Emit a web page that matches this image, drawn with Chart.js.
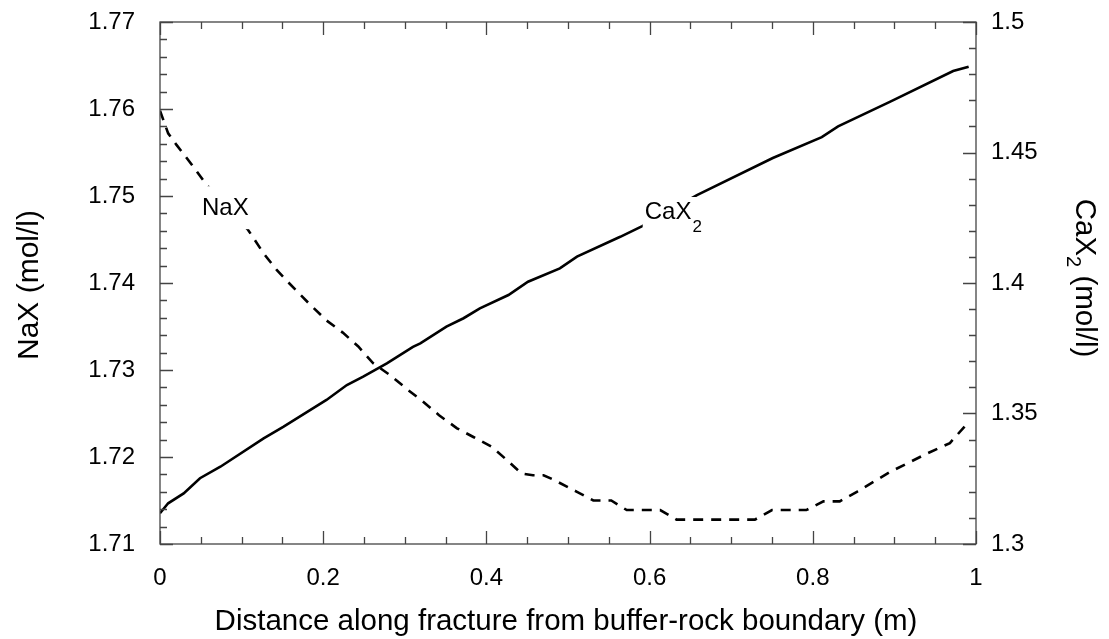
<!DOCTYPE html>
<html>
<head>
<meta charset="utf-8">
<title>NaX and CaX2 along the fracture</title>
<script src="https://cdn.jsdelivr.net/npm/chart.js@4.4.1/dist/chart.umd.min.js"></script>
<style>
  html, body { margin: 0; padding: 0; background: #ffffff; }
  #wrap { width: 1109px; height: 639px; }
</style>
</head>
<body>
<div id="wrap"><canvas id="chart" width="1109" height="639"></canvas></div>
<script>
// Distance along the fracture (m) and the exchanger concentrations (mol/l)
const naxDistance = [0, 0.010, 0.020, 0.039, 0.057, 0.108, 0.127, 0.143, 0.157, 0.182, 0.204, 0.224,
  0.243, 0.261, 0.282, 0.304, 0.322, 0.342, 0.364, 0.384, 0.406, 0.427, 0.443, 0.457, 0.470, 0.482,
  0.511, 0.531, 0.553, 0.572, 0.613, 0.633, 0.729, 0.750, 0.792, 0.813, 0.833, 0.854, 0.895, 0.940,
  0.968, 0.986];
const naxValues = [1.7598, 1.7572, 1.7559, 1.7536, 1.7513, 1.7461, 1.7434, 1.7415, 1.7401, 1.7377,
  1.7357, 1.7343, 1.7327, 1.7308, 1.7294, 1.7277, 1.7264, 1.7248, 1.7233, 1.7223, 1.7212, 1.7195,
  1.7181, 1.7179, 1.7179, 1.7174, 1.7160, 1.7150, 1.7150, 1.7139, 1.7139, 1.7128, 1.7128, 1.7139,
  1.7139, 1.7149, 1.7149, 1.7160, 1.7183, 1.7204, 1.7216, 1.7235];

const caxDistance = [0, 0.010, 0.029, 0.049, 0.074, 0.127, 0.151, 0.204, 0.229, 0.249, 0.278, 0.310,
  0.319, 0.351, 0.372, 0.392, 0.427, 0.451, 0.490, 0.511, 0.564, 0.591, 0.658, 0.751, 0.811, 0.831,
  0.895, 0.972, 0.991];
const cax2Values = [1.3118, 1.3156, 1.3194, 1.3252, 1.3296, 1.3405, 1.3449, 1.3552, 1.3609, 1.3641,
  1.3692, 1.3755, 1.3769, 1.3833, 1.3865, 1.3903, 1.3954, 1.4005, 1.4056, 1.4101, 1.4177, 1.4218,
  1.4337, 1.4479, 1.4559, 1.4600, 1.4695, 1.4812, 1.4829];

// Axis tick labels and minor steps
const xTicks = [0, 0.2, 0.4, 0.6, 0.8, 1];
const naxTicks = [1.71, 1.72, 1.73, 1.74, 1.75, 1.76, 1.77];
const caxTicks = [1.3, 1.35, 1.4, 1.45, 1.5];
const xMinorStep = 0.05, naxMinorStep = 0.002, caxMinorStep = 0.01;

const FONT = '"Liberation Sans", Arial, Helvetica, sans-serif';
const AXIS_COLOR = '#444444';

function text(ctx, str, x, y, size, align, baseline, rot) {
  ctx.save();
  ctx.translate(x, y);
  if (rot) ctx.rotate(rot);
  ctx.font = size + 'px ' + FONT;
  ctx.textAlign = align;
  ctx.textBaseline = baseline;
  ctx.fillStyle = '#000000';
  ctx.fillText(str, 0, 0);
  ctx.restore();
}

function stepValues(min, max, step) {
  const out = [];
  const n = Math.round((max - min) / step);
  for (let i = 0; i <= n; i++) out.push(+(min + i * step).toFixed(6));
  return out;
}

const frameAndLabels = {
  id: 'frameAndLabels',
  afterDatasetsDraw(chart) {
    const { ctx, chartArea: a, scales } = chart;
    const xs = scales.x, yl = scales.y, yr = scales.y2;
    const MAJ = 13, MIN = 7;

    // anchors of the two curve labels
    const naxLX = xs.getPixelForValue(0.0515), naxLY = yl.getPixelForValue(1.7486);
    const caxLX = xs.getPixelForValue(0.594), caxLY = yr.getPixelForValue(1.4272);

    // curves pass behind their labels
    ctx.save();
    ctx.fillStyle = '#ffffff';
    ctx.fillRect(naxLX - 2, naxLY - 22, 50, 43);
    ctx.fillRect(caxLX - 2, caxLY - 15, 62, 45);
    ctx.restore();

    ctx.save();
    ctx.strokeStyle = AXIS_COLOR;
    ctx.lineWidth = 1.3;
    ctx.strokeRect(a.left, a.top, a.right - a.left, a.bottom - a.top);

    ctx.beginPath();
    // x ticks, bottom and top, pointing inward
    stepValues(0, 1, xMinorStep).forEach(v => {
      const px = Math.round(xs.getPixelForValue(v)) + 0.5;
      const len = xTicks.some(t => Math.abs(t - v) < 1e-9) ? MAJ : MIN;
      ctx.moveTo(px, a.bottom); ctx.lineTo(px, a.bottom - len);
      ctx.moveTo(px, a.top); ctx.lineTo(px, a.top + len);
    });
    // left axis ticks
    stepValues(1.71, 1.77, naxMinorStep).forEach(v => {
      const py = Math.round(yl.getPixelForValue(v)) + 0.5;
      const len = naxTicks.some(t => Math.abs(t - v) < 1e-9) ? MAJ : MIN;
      ctx.moveTo(a.left, py); ctx.lineTo(a.left + len, py);
    });
    // right axis ticks
    stepValues(1.3, 1.5, caxMinorStep).forEach(v => {
      const py = Math.round(yr.getPixelForValue(v)) + 0.5;
      const len = caxTicks.some(t => Math.abs(t - v) < 1e-9) ? MAJ : MIN;
      ctx.moveTo(a.right, py); ctx.lineTo(a.right - len, py);
    });
    ctx.stroke();
    ctx.restore();

    // tick labels
    xTicks.forEach(v => text(ctx, String(v), xs.getPixelForValue(v), a.bottom + 34, 24, 'center', 'middle'));
    naxTicks.forEach(v => text(ctx, v.toFixed(2), a.left - 25, yl.getPixelForValue(v), 24, 'right', 'middle'));
    caxTicks.forEach(v => text(ctx, String(v), a.right + 15, yr.getPixelForValue(v), 24, 'left', 'middle'));

    // axis titles
    text(ctx, 'Distance along fracture from buffer-rock boundary (m)', (a.left + a.right) / 2 - 2, a.bottom + 78, 29.5, 'center', 'middle');
    text(ctx, 'NaX (mol/l)', 30, (a.top + a.bottom) / 2 + 2, 30, 'center', 'middle', -Math.PI / 2);

    // right title with subscript, reading top to bottom
    ctx.save();
    ctx.translate(1084, (a.top + a.bottom) / 2 - 5);
    ctx.rotate(Math.PI / 2);
    ctx.fillStyle = '#000000';
    ctx.textBaseline = 'middle';
    ctx.textAlign = 'left';
    const big = '29.5px ' + FONT, small = '20px ' + FONT;
    ctx.font = big; const w1 = ctx.measureText('CaX').width;
    ctx.font = small; const w2 = ctx.measureText('2').width;
    ctx.font = big; const w3 = ctx.measureText(' (mol/l)').width;
    const x0 = -(w1 + w2 + w3) / 2;
    ctx.font = big; ctx.fillText('CaX', x0, 0);
    ctx.font = small; ctx.fillText('2', x0 + w1, 11);
    ctx.font = big; ctx.fillText(' (mol/l)', x0 + w1 + w2, 0);
    ctx.restore();

    // curve labels
    text(ctx, 'NaX', naxLX, naxLY, 24, 'left', 'middle');
    text(ctx, 'CaX', caxLX, caxLY, 24, 'left', 'middle');
    ctx.font = '24px ' + FONT;
    const capW = ctx.measureText('CaX').width;
    text(ctx, '2', caxLX + capW + 1, caxLY + 15, 17, 'left', 'middle');
  }
};

const ctx = document.getElementById('chart').getContext('2d');
new Chart(ctx, {
  type: 'line',
  data: {
    datasets: [
      {
        label: 'NaX',
        data: naxDistance.map((x, i) => ({ x, y: naxValues[i] })),
        yAxisID: 'y',
        borderColor: '#000000',
        borderWidth: 2.6,
        borderDash: [10, 8],
        pointRadius: 0,
        tension: 0,
        fill: false
      },
      {
        label: 'CaX2',
        data: caxDistance.map((x, i) => ({ x, y: cax2Values[i] })),
        yAxisID: 'y2',
        borderColor: '#000000',
        borderWidth: 2.6,
        pointRadius: 0,
        tension: 0,
        fill: false
      }
    ]
  },
  options: {
    responsive: false,
    animation: false,
    layout: { padding: { left: 160, right: 133, top: 22, bottom: 95 } },
    plugins: { legend: { display: false }, tooltip: { enabled: false } },
    scales: {
      x: { type: 'linear', min: 0, max: 1, display: false },
      y: { type: 'linear', position: 'left', min: 1.71, max: 1.77, display: false },
      y2: { type: 'linear', position: 'right', min: 1.3, max: 1.5, display: false }
    }
  },
  plugins: [frameAndLabels]
});
</script>
</body>
</html>
